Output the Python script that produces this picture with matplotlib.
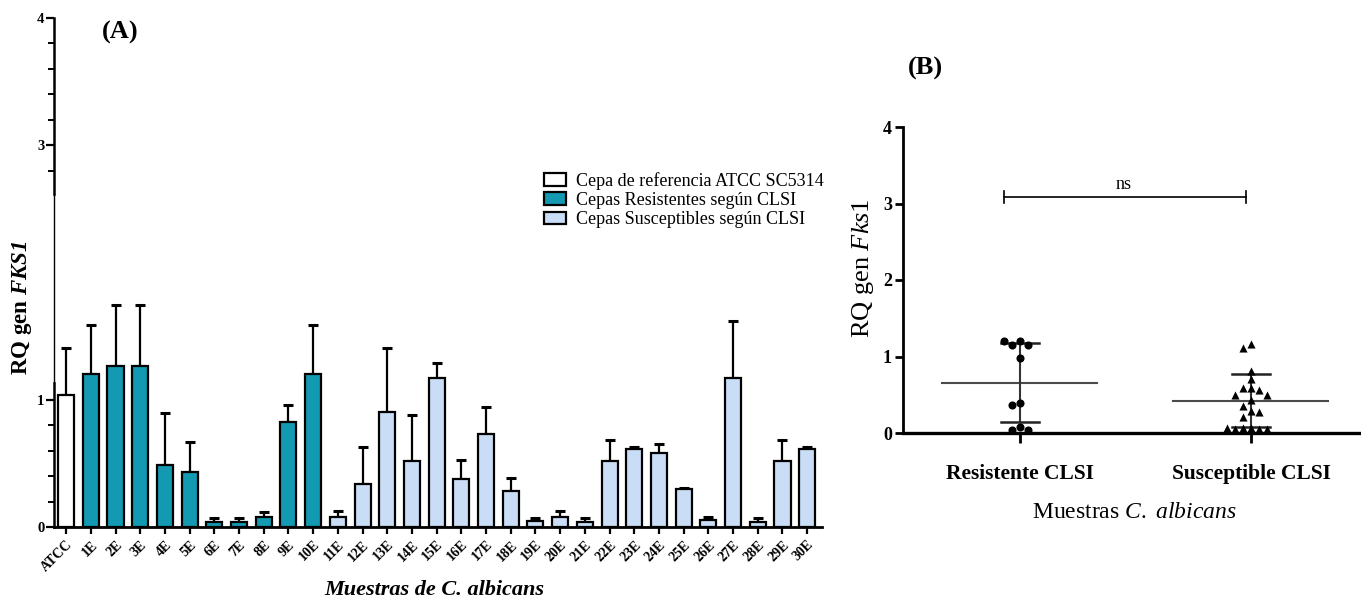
import numpy as np
import matplotlib
matplotlib.use('Agg')
import matplotlib.pyplot as plt
from matplotlib.patches import Patch

plt.rcParams['font.family'] = ['Liberation Serif', 'DejaVu Serif']
plt.rcParams['mathtext.fontset'] = 'custom'
plt.rcParams['mathtext.rm'] = 'Liberation Serif'
plt.rcParams['mathtext.it'] = 'Liberation Serif:italic'
plt.rcParams['mathtext.bf'] = 'Liberation Serif:bold'
if 'mathtext.bfit' in plt.rcParams:
    plt.rcParams['mathtext.bfit'] = 'Liberation Serif:italic:bold'

# ---- datos panel A ----
muestras = ['ATCC', '1E', '2E', '3E', '4E', '5E', '6E', '7E', '8E', '9E', '10E',
            '11E', '12E', '13E', '14E', '15E', '16E', '17E', '18E', '19E', '20E',
            '21E', '22E', '23E', '24E', '25E', '26E', '27E', '28E', '29E', '30E']
grupo = ['ref'] + ['res'] * 10 + ['sus'] * 20
rq = [1.04, 1.20, 1.265, 1.265, 0.487, 0.43, 0.042, 0.042, 0.081, 0.828, 1.20,
      0.076, 0.338, 0.906, 0.521, 1.171, 0.38, 0.731, 0.286, 0.05, 0.076,
      0.042, 0.516, 0.613, 0.584, 0.299, 0.055, 1.171, 0.042, 0.516, 0.613]
rq_sup = [1.41, 1.59, 1.745, 1.745, 0.893, 0.665, 0.068, 0.068, 0.12, 0.956, 1.59,
          0.126, 0.629, 1.41, 0.88, 1.29, 0.524, 0.943, 0.382, 0.068, 0.126,
          0.068, 0.681, 0.631, 0.65, 0.306, 0.081, 1.619, 0.068, 0.681, 0.631]

# ---- datos panel B ----
categorias = ['Resistente CLSI', 'Susceptible CLSI']
rq_resistente = [1.204, 1.152, 1.152, 1.204, 0.977, 0.388, 0.366, 0.074, 0.039, 0.039]
rq_susceptible = [1.165, 1.117, 0.811, 0.707, 0.593, 0.593, 0.563, 0.497, 0.497, 0.432,
                  0.353, 0.29, 0.27, 0.21, 0.07, 0.06, 0.05, 0.05, 0.05, 0.07]

colores = {'ref': 'white', 'res': '#1399B2', 'sus': '#C9DDF6'}

fig = plt.figure(figsize=(13.61, 6.01), dpi=100)
W, H = 1361, 601


def fx(px):
    return px / W


def fy(py):
    return 1 - py / H


# ================= Panel A =================
axA = fig.add_axes([fx(54), fy(527), fx(822 - 54), (527 - 18) / H])
x = np.arange(len(muestras))
err = np.array(rq_sup) - np.array(rq)
axA.bar(x, rq, width=0.65, color=[colores[g] for g in grupo],
        edgecolor='black', linewidth=1.6, zorder=2)
axA.errorbar(x, rq, yerr=[np.zeros_like(err), err], fmt='none', ecolor='black',
             elinewidth=1.6, capsize=3.3, capthick=2.2, zorder=1)
axA.set_xlim(-0.49, 30.6)
axA.set_ylim(0, 4)
axA.set_xticks(x)
axA.set_xticklabels(muestras, rotation=45, ha='right', rotation_mode='anchor',
                    fontsize=10, fontweight='bold')
axA.set_yticks([0, 1, 3, 4])
axA.set_yticklabels(['0', '1', '3', '4'], fontsize=10.5, fontweight='bold')
axA.set_yticks([0.2, 0.4, 0.6, 0.8, 2.8, 3.2, 3.4, 3.6, 3.8], minor=True)
axA.tick_params(axis='x', length=5, width=1.6, pad=3)
axA.tick_params(axis='y', which='major', length=6, width=1.6, pad=1)
axA.tick_params(axis='y', which='minor', length=4, width=1.4)
for s in ['top', 'right', 'left']:
    axA.spines[s].set_visible(False)
axA.spines['bottom'].set_linewidth(2)
# eje y segmentado
tr = axA.get_yaxis_transform()
axA.plot([0, 0], [0, 1.13], color='black', lw=1.8, transform=tr, clip_on=False)
axA.plot([0, 0], [1.13, 2.62], color='black', lw=1.0, transform=tr, clip_on=False)
axA.plot([0, 0], [2.62, 4], color='black', lw=1.8, transform=tr, clip_on=False)

handles = [Patch(facecolor=colores['ref'], edgecolor='black', linewidth=1.6),
           Patch(facecolor=colores['res'], edgecolor='black', linewidth=1.6),
           Patch(facecolor=colores['sus'], edgecolor='black', linewidth=1.6)]
etiquetas = ['Cepa de referencia ATCC SC5314', 'Cepas Resistentes según CLSI',
             'Cepas Susceptibles según CLSI']
axA.legend(handles, etiquetas, loc='upper left', bbox_to_anchor=(fx(544), fy(172)),
           bbox_transform=fig.transFigure, frameon=False, fontsize=13,
           handlelength=1.2, handleheight=0.7, handletextpad=0.55,
           labelspacing=0.12, borderpad=0, borderaxespad=0)

fig.text(fx(120), fy(32), '(A)', fontsize=19, fontweight='bold', ha='center', va='center')
fig.text(fx(22), fy(308), r'RQ gen $\mathbfit{FKS1}$', fontsize=16.5, fontweight='bold',
         rotation=90, ha='center', va='center')
fig.text(fx(434), fy(590), 'Muestras de C. albicans', fontsize=16, fontweight='bold',
         style='italic', ha='center', va='center')

# ================= Panel B =================
axB = fig.add_axes([fx(903), fy(433), 1 - fx(903), (433 - 127) / H])
axB.set_xlim(-0.505, 1.476)
axB.set_ylim(0, 4)


def enjambre(vals, umbral):
    # posiciones horizontales tipo "swarm" (columnas enteras)
    cols = []
    orden = [0, -1, 1, -2, 2, -3, 3, -4, 4]
    for i, v in enumerate(vals):
        for c in orden:
            if all(not (cols[j] == c and abs(vals[j] - v) < umbral) for j in range(i)):
                cols.append(c)
                break
    return np.array(cols)


paso = 0.034
grupos = [rq_resistente, rq_susceptible]
marcas = ['o', '^']
for i, vals in enumerate(grupos):
    vals = np.array(vals)
    cols = enjambre(list(vals), 0.1)
    axB.scatter(i + cols * paso, vals, marker=marcas[i], s=34, color='black',
                zorder=3, linewidths=0)
    m = vals.mean()
    sd = vals.std(ddof=1)
    axB.plot([i - 0.335, i + 0.335], [m, m], color='#4a4a4a', lw=1.5, zorder=2)
    axB.plot([i, i], [m - sd, m + sd], color='#333333', lw=1.5, zorder=2)
    for yv in (m - sd, m + sd):
        axB.plot([i - 0.083, i + 0.083], [yv, yv], color='#222222', lw=1.8, zorder=2)

# barra de significancia
axB.plot([-0.07, 0.98], [3.085, 3.085], color='black', lw=1.2)
axB.plot([-0.07, -0.07], [3.005, 3.165], color='black', lw=1.2)
axB.plot([0.98, 0.98], [3.005, 3.165], color='black', lw=1.2)
axB.text(0.45, 3.14, 'ns', fontsize=13, ha='center', va='bottom')

axB.set_xticks([0, 1])
axB.set_xticklabels(categorias, fontsize=15.5, fontweight='bold')
axB.set_yticks([0, 1, 2, 3, 4])
axB.set_yticklabels(['0', '1', '2', '3', '4'], fontsize=13, fontweight='bold')
axB.tick_params(axis='x', length=7, width=2, pad=15)
axB.tick_params(axis='y', length=6, width=2, pad=2)
for s in ['top', 'right']:
    axB.spines[s].set_visible(False)
axB.spines['left'].set_linewidth(2)
axB.spines['bottom'].set_linewidth(2.4)

fig.text(fx(925), fy(68), '(B)', fontsize=19, fontweight='bold', ha='center', va='center')
fig.text(fx(863), fy(268), r'RQ gen $\mathit{Fks1}$', fontsize=19,
         rotation=90, ha='center', va='center')
fig.text(fx(1134), fy(513), r'Muestras $\mathit{C.\ albicans}$', fontsize=17,
         ha='center', va='center')

fig.savefig('out.png', dpi=100)
